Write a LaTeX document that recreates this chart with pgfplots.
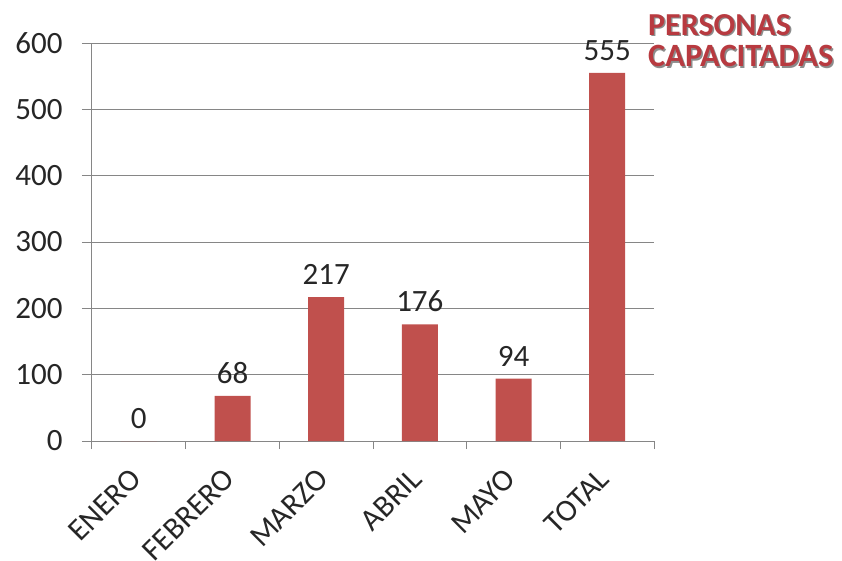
\documentclass[border=0pt]{standalone}
\usepackage{pgfplots}
\pgfplotsset{compat=1.18}
\usepackage{fontspec}
\setmainfont{Carlito}
\definecolor{barred}{RGB}{192,80,77}
\definecolor{gridgray}{RGB}{134,134,134}
\definecolor{titlered}{RGB}{184,58,64}
\begin{document}
\begin{tikzpicture}
% page = 842x560 px, axis box corner at pixel (92,441)
\path[use as bounding box] (-92pt,-119pt) rectangle (750pt,441pt);
\begin{axis}[
    at={(0,0)}, anchor=south west,
    scale only axis,
    width=562pt, height=398pt,
    xmin=-0.5, xmax=5.5,
    ymin=0, ymax=600,
    ytick={0,100,...,600},
    xtick={0,...,5},
    xticklabels={ENERO,FEBRERO,MARZO,ABRIL,MAYO,TOTAL},
    minor xtick={-0.5,0.5,...,5.5},
    axis lines*=left,
    axis line style={draw=gridgray, line width=1pt, -},
    ymajorgrids,
    major grid style={draw=gridgray, line width=1pt},
    tick align=outside,
    major x tick style={draw=none},
    minor x tick style={draw=gridgray, line width=1pt},
    minor tick length=8pt,
    major y tick style={draw=gridgray, line width=1pt},
    major tick length=10pt,
    tick label style={font=\fontsize{31}{34}\selectfont, text=black!85},
    /pgf/number format/assume math mode=true,
    yticklabel style={xshift=-16pt},
    xticklabel style={rotate=45, anchor=east, xshift=-15pt, yshift=-14pt},
    ybar, bar width=36pt,
    nodes near coords,
    nodes near coords style={font=\fontsize{31}{34}\selectfont, text=black!85, yshift=9pt},
    clip=false,
]
\addplot[fill=barred, draw=none] coordinates {
    (0,0) (1,68) (2,217) (3,176) (4,94) (5,555)
};
\end{axis}
\foreach \dx/\dy/\c in {1.5pt/-1.5pt/black!45, 0pt/0pt/titlered} {
  \node[anchor=west, inner sep=0pt, text=\c, font=\fontsize{32}{34}\selectfont\bfseries]
    at ([xshift=\dx, yshift=\dy]556pt,416pt) {PERSONAS};
  \node[anchor=west, inner sep=0pt, text=\c, font=\fontsize{32.5}{34}\selectfont\bfseries]
    at ([xshift=\dx, yshift=\dy]556pt,385pt) {CAPACITADAS};
}
\end{tikzpicture}
\end{document}
